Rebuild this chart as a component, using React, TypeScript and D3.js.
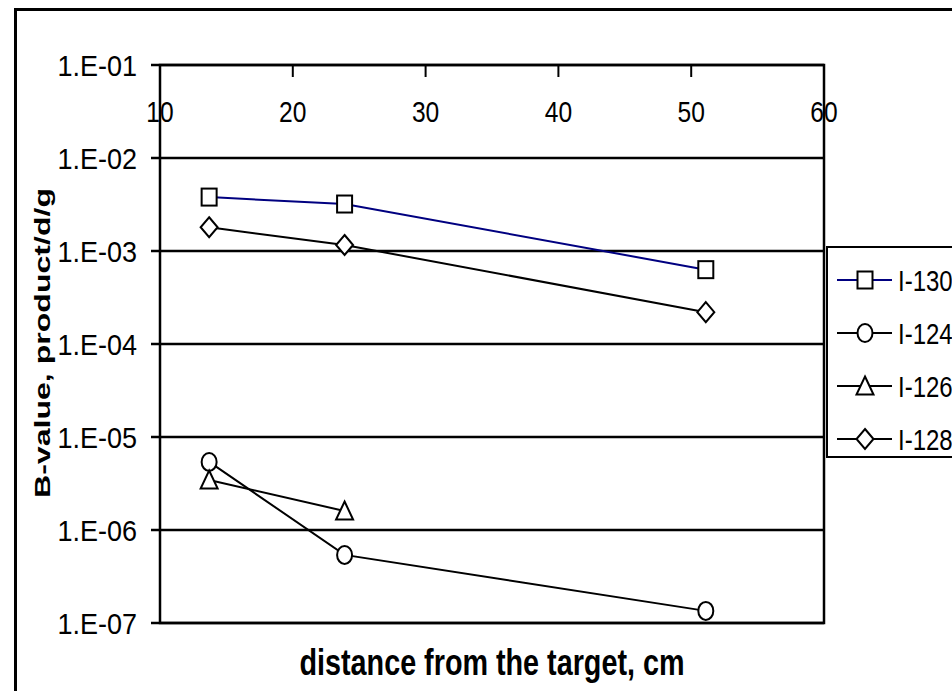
import React from 'react';
import * as d3 from 'd3';

// distance from the target, cm
const distances = [13.7, 23.9, 51.1];

const seriesNames = ['I-130', 'I-124', 'I-126', 'I-128'];
const i130 = [3.8e-3, 3.2e-3, 6.3e-4];
const i124 = [5.4e-6, 5.4e-7, 1.35e-7];
const i126 = [3.45e-6, 1.6e-6];
const i128 = [1.8e-3, 1.16e-3, 2.2e-4];

const xTicks = [10, 20, 30, 40, 50, 60];
const yTicks = [1e-1, 1e-2, 1e-3, 1e-4, 1e-5, 1e-6, 1e-7];

const W = 952;
const H = 691;
const plot = { left: 160, right: 824, top: 65, bottom: 623 };

const x = d3.scaleLinear().domain([10, 60]).range([plot.left, plot.right]);
const y = d3.scaleLog().domain([1e-7, 1e-1]).range([plot.bottom, plot.top]);

const fmt = (v: number) => {
  const e = Math.round(Math.log10(v));
  return `1.E-${String(-e).padStart(2, '0')}`;
};

type Marker = 'square' | 'circle' | 'triangle' | 'diamond';

function MarkerShape({ kind, cx, cy }: { kind: Marker; cx: number; cy: number }) {
  const p = { fill: '#fff', stroke: '#000', strokeWidth: 2 };
  if (kind === 'square') return <rect x={cx - 7.5} y={cy - 8.5} width={15} height={17} {...p} />;
  if (kind === 'circle') return <ellipse cx={cx} cy={cy} rx={7.5} ry={9} {...p} />;
  if (kind === 'triangle')
    return <path d={`M${cx},${cy - 9.5}L${cx + 8.5},${cy + 8.5}L${cx - 8.5},${cy + 8.5}Z`} {...p} />;
  return <path d={`M${cx},${cy - 10}L${cx + 8.5},${cy}L${cx},${cy + 10}L${cx - 8.5},${cy}Z`} {...p} />;
}

// text squeezed horizontally, like the stretched original
function SqText({ x: tx, y: ty, sx = 0.88, anchor = 'start', size = 30, children }: any) {
  return (
    <text transform={`translate(${tx},${ty}) scale(${sx},1)`} textAnchor={anchor} fontSize={size}>
      {children}
    </text>
  );
}

const series = [
  { name: seriesNames[0], values: i130, color: '#000080', marker: 'square' as Marker },
  { name: seriesNames[1], values: i124, color: '#000', marker: 'circle' as Marker },
  { name: seriesNames[2], values: i126, color: '#000', marker: 'triangle' as Marker },
  { name: seriesNames[3], values: i128, color: '#000', marker: 'diamond' as Marker },
];

export default function App() {
  const line = d3
    .line<[number, number]>()
    .x((d) => x(d[0]))
    .y((d) => y(d[1]));
  const font = '"Liberation Sans", Arial, sans-serif';

  return (
    <svg
      width={W}
      height={H}
      style={{ position: 'absolute', left: 0, top: 0, display: 'block', background: '#fff' }}
      fontFamily={font}
    >
      {/* outer chart border */}
      <rect x={15.5} y={9.5} width={W + 20} height={H + 20} fill="#fff" stroke="#000" strokeWidth={3} />

      {/* grid lines */}
      {yTicks.map((t) => (
        <line key={t} x1={plot.left - 9} x2={plot.right} y1={y(t)} y2={y(t)} stroke="#000" strokeWidth={2.5} />
      ))}
      {/* plot frame */}
      <rect
        x={plot.left}
        y={plot.top}
        width={plot.right - plot.left}
        height={plot.bottom - plot.top}
        fill="none"
        stroke="#000"
        strokeWidth={2.5}
      />
      {/* x ticks at top */}
      {xTicks.map((t) => (
        <g key={t}>
          <line x1={x(t)} x2={x(t)} y1={plot.top} y2={plot.top + 12} stroke="#000" strokeWidth={2} />
          <SqText x={x(t)} y={122} anchor="middle" sx={0.82}>
            {t}
          </SqText>
        </g>
      ))}
      {/* y tick labels */}
      {yTicks.map((t) => (
        <SqText key={t} x={137} y={y(t) + 11} anchor="end" sx={0.9}>
          {fmt(t)}
        </SqText>
      ))}

      {/* series */}
      {series.map((s) => {
        const pts = s.values.map((v, i) => [distances[i], v] as [number, number]);
        return (
          <g key={s.name}>
            <path d={line(pts) ?? ''} fill="none" stroke={s.color} strokeWidth={2} />
            {pts.map((p, i) => (
              <MarkerShape key={i} kind={s.marker} cx={x(p[0])} cy={y(p[1])} />
            ))}
          </g>
        );
      })}

      {/* legend */}
      <rect x={827} y={247} width={140} height={210} fill="#fff" stroke="#000" strokeWidth={2} />
      {series.map((s, i) => {
        const cy = 280 + i * 53;
        return (
          <g key={s.name}>
            <line x1={837} x2={892} y1={cy} y2={cy} stroke={s.color} strokeWidth={2} />
            <MarkerShape kind={s.marker} cx={865} cy={cy} />
            <SqText x={898} y={cy + 11} sx={0.8}>
              {s.name}
            </SqText>
          </g>
        );
      })}

      {/* axis titles */}
      <text
        transform={`translate(50, 343) rotate(-90)`}
        textAnchor="middle"
        fontSize={22}
        fontWeight="bold"
        textLength={310}
        lengthAdjust="spacingAndGlyphs"
      >
        B-value,  product/d/g
      </text>
      <text
        x={492}
        y={675}
        textAnchor="middle"
        fontSize={36}
        fontWeight="bold"
        textLength={385}
        lengthAdjust="spacingAndGlyphs"
      >
        distance from the target, cm
      </text>
    </svg>
  );
}
